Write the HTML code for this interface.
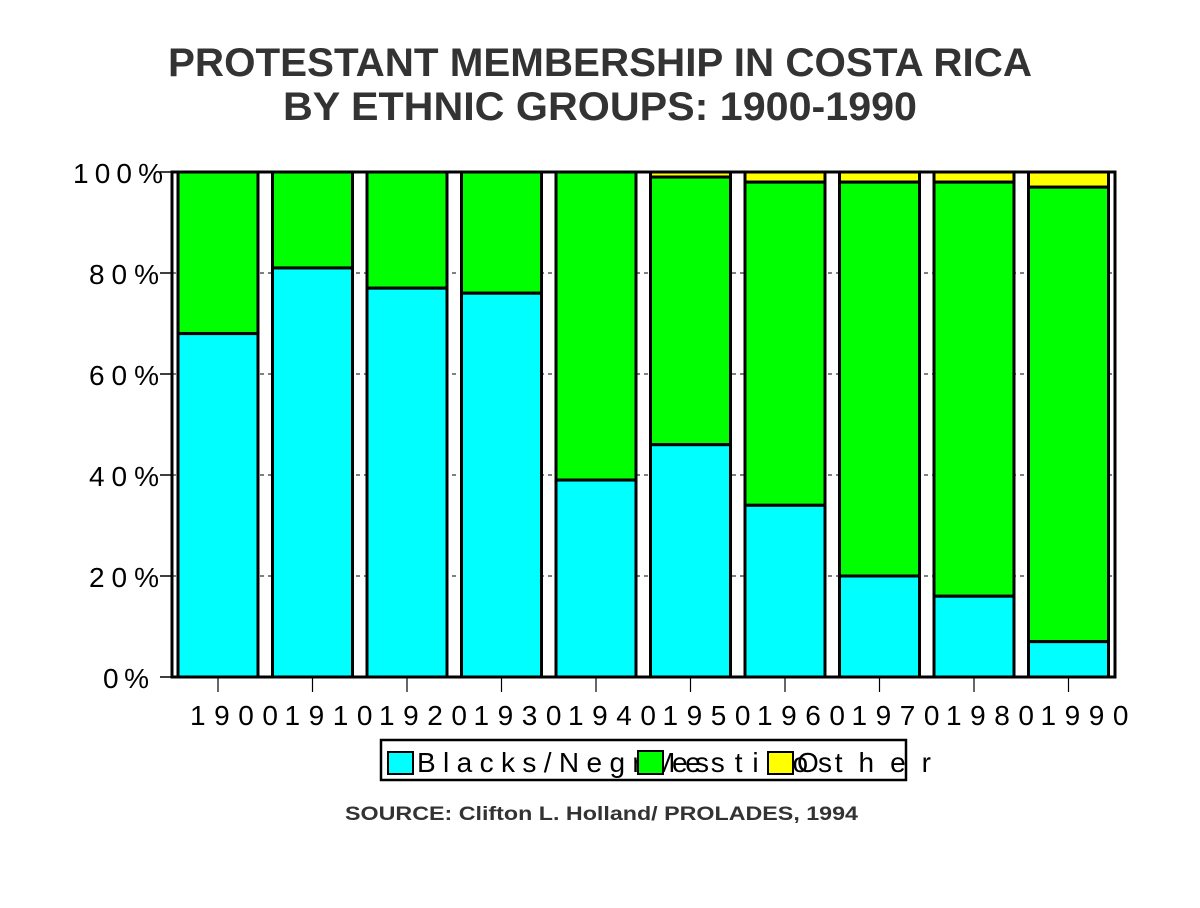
<!DOCTYPE html>
<html><head><meta charset="utf-8"><style>html,body{margin:0;padding:0;background:#fff}svg{display:block}</style></head>
<body>
<svg width="1200" height="908" xmlns="http://www.w3.org/2000/svg" font-family="Liberation Sans, sans-serif">
<rect width="1200" height="908" fill="#fff"/>
<g fill="#333" font-weight="bold" font-size="40" text-anchor="start">
<text x="168" y="76" textLength="864" lengthAdjust="spacingAndGlyphs">PROTESTANT MEMBERSHIP IN COSTA RICA</text>
<text x="283" y="120" textLength="634" lengthAdjust="spacingAndGlyphs">BY ETHNIC GROUPS:  1900-1990</text>
</g>
<g stroke="#000" stroke-width="1" stroke-dasharray="4,4">
<line x1="172" y1="273" x2="1116" y2="273"/>
<line x1="172" y1="374" x2="1116" y2="374"/>
<line x1="172" y1="475" x2="1116" y2="475"/>
<line x1="172" y1="576" x2="1116" y2="576"/>
</g>
<g id="bars" stroke="#000" stroke-width="3"></g>
<rect x="172" y="172" width="943" height="505" fill="none" stroke="#000" stroke-width="3"/>
<g stroke="#000" stroke-width="1.5">
<line x1="160" y1="172" x2="172" y2="172"/><line x1="160" y1="273" x2="172" y2="273"/>
<line x1="160" y1="374" x2="172" y2="374"/><line x1="160" y1="475" x2="172" y2="475"/>
<line x1="160" y1="576" x2="172" y2="576"/><line x1="160" y1="677" x2="172" y2="677"/>
</g>
<g id="ticks" stroke="#000" stroke-width="1.2"></g>
<g font-size="28" fill="#000" text-anchor="start">
<text x="73" y="183" textLength="90" lengthAdjust="spacing">100%</text>
<text x="89" y="284" textLength="70" lengthAdjust="spacing">80%</text>
<text x="89" y="385" textLength="70" lengthAdjust="spacing">60%</text>
<text x="89" y="486" textLength="70" lengthAdjust="spacing">40%</text>
<text x="89" y="587" textLength="70" lengthAdjust="spacing">20%</text>
<text x="103" y="688" textLength="46" lengthAdjust="spacing">0%</text>
</g>
<g id="years" font-size="28" fill="#000"></g>
<rect x="381" y="740" width="525" height="40" fill="#fff" stroke="#000" stroke-width="2.5"/>
<g font-size="28" fill="#000">
<text x="417" y="772" textLength="292" lengthAdjust="spacing">Blacks/Negroes</text>
<text x="652" y="772" textLength="180" lengthAdjust="spacing">Mestizos</text>
<text x="797" y="772" textLength="134" lengthAdjust="spacing">Other</text>
</g>
<rect x="388" y="752" width="25" height="22" fill="#00ffff" stroke="#000" stroke-width="2"/>
<rect x="638" y="751" width="25" height="23" fill="#00ff00" stroke="#000" stroke-width="2"/>
<rect x="768" y="752" width="25" height="22" fill="#ffff00" stroke="#000" stroke-width="2"/>
<text x="345" y="820" font-size="19" font-weight="bold" fill="#333" textLength="513" lengthAdjust="spacingAndGlyphs">SOURCE: Clifton L. Holland/ PROLADES, 1994</text>
<script>
var d=[[68,100],[81,100],[77,100],[76,100],[39,100],[46,99],[34,98],[20,98],[16,98],[7,97]];
var ns="http://www.w3.org/2000/svg",b=document.getElementById('bars'),t=document.getElementById('ticks'),yr=document.getElementById('years');
function Y(v){return 677-5.05*v;}
function r(x,y1,y2,c){var e=document.createElementNS(ns,'rect');e.setAttribute('x',x);e.setAttribute('y',y1);e.setAttribute('width',80);e.setAttribute('height',y2-y1);e.setAttribute('fill',c);b.appendChild(e);}
for(var i=0;i<10;i++){var x=178+94.5*i;
if(d[i][1]<100)r(x,Y(100),Y(d[i][1]),'#ffff00');
r(x,Y(d[i][1]),Y(d[i][0]),'#00ff00');r(x,Y(d[i][0]),677,'#00ffff');
var l=document.createElementNS(ns,'line');l.setAttribute('x1',x+40);l.setAttribute('x2',x+40);l.setAttribute('y1',677);l.setAttribute('y2',692);t.appendChild(l);
var s=document.createElementNS(ns,'text');s.setAttribute('x',x+12);s.setAttribute('y',725);s.setAttribute('textLength',88);s.setAttribute('lengthAdjust','spacing');s.textContent=String(1900+10*i);yr.appendChild(s);}
</script>
</svg>
</body></html>
